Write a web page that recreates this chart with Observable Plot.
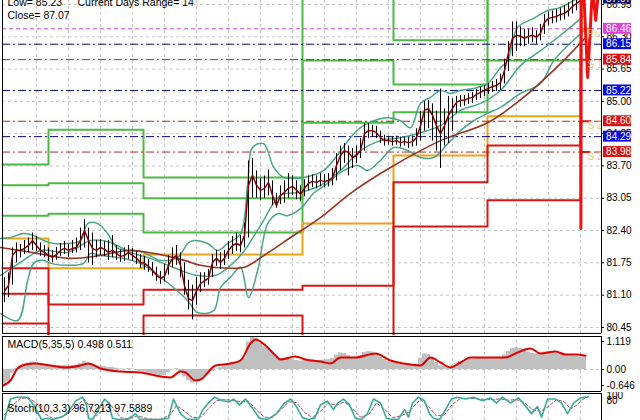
<!DOCTYPE html>
<html><head><meta charset="utf-8">
<script src="https://cdn.jsdelivr.net/npm/d3@7"></script>
<script src="https://cdn.jsdelivr.net/npm/@observablehq/plot@0.6"></script>
<style>
body{margin:0;background:#fff;}
#chart{position:relative;width:640px;height:420px;overflow:hidden;background:#fff;}
#chart svg{position:absolute;left:0;}
</style></head><body><div id="chart"></div>
<script>
// ---------- price bars (bar index 0..145) ----------
const closeP = [81.19,81.29,81.90,82.00,82.00,82.04,82.10,82.20,82.10,82.00,
81.96,81.90,81.86,81.92,82.00,82.04,82.00,82.04,82.06,82.20,
82.40,82.20,82.04,82.00,82.06,82.02,81.96,82.00,81.94,81.88,
81.90,81.96,81.90,81.84,81.76,81.74,81.68,81.60,81.50,81.44,
81.48,81.70,81.84,81.90,81.70,81.29,81.03,80.99,81.19,81.33,
81.39,81.44,81.76,81.84,81.76,81.84,82.00,82.10,82.14,82.10,
82.30,83.31,83.51,83.31,83.21,83.25,83.37,83.11,82.90,83.11,
83.17,83.25,83.29,83.21,83.13,83.25,83.35,83.39,83.37,83.41,
83.39,83.41,83.45,83.71,83.91,84.01,83.97,83.87,83.91,84.01,
84.35,84.41,84.41,84.37,84.27,84.21,84.21,84.19,84.21,84.17,
84.19,84.17,84.19,84.27,84.51,84.82,84.86,84.72,84.51,84.35,
84.51,84.72,84.86,84.98,85.02,85.02,85.06,85.08,85.14,85.18,
85.22,85.26,85.30,85.32,85.38,85.62,85.98,86.27,86.33,86.31,
86.27,86.31,86.33,86.29,86.37,86.59,86.67,86.69,86.71,86.75,
86.77,86.83,86.91,86.97,87.03,87.07];
const highP = [81.45,81.55,82.05,82.15,82.12,82.20,82.25,82.35,82.28,82.15,
82.10,82.05,82.00,82.06,82.14,82.18,82.12,82.20,82.25,82.45,
82.62,82.45,82.35,82.20,82.22,82.18,82.20,82.30,82.10,82.02,
82.05,82.10,82.04,81.98,81.92,81.88,81.82,81.76,81.66,81.58,
81.72,81.90,82.05,82.10,81.95,81.75,81.40,81.30,81.45,81.55,
81.55,81.62,81.92,82.00,81.95,82.00,82.18,82.28,82.35,82.30,
82.55,83.80,83.85,83.60,83.45,83.50,83.62,83.40,83.15,83.30,
83.40,83.55,83.50,83.40,83.30,83.42,83.50,83.52,83.50,83.55,
83.52,83.55,83.65,83.95,84.10,84.15,84.10,84.05,84.10,84.25,
84.55,84.55,84.52,84.50,84.40,84.32,84.30,84.28,84.30,84.28,
84.28,84.27,84.30,84.45,84.80,85.00,85.02,84.95,84.80,85.25,
84.85,85.10,85.05,85.10,85.12,85.12,85.16,85.18,85.24,85.28,
85.32,85.36,85.40,85.44,85.55,85.85,86.20,86.60,86.60,86.50,
86.45,86.45,86.48,86.42,86.55,86.75,86.80,86.82,86.85,86.88,
86.92,86.98,87.05,87.10,87.15,87.20];
const lowP = [80.95,81.05,81.30,81.75,81.85,81.92,81.95,82.00,81.98,81.88,
81.85,81.78,81.75,81.80,81.88,81.92,81.86,81.94,81.95,82.00,
82.05,81.75,81.70,81.85,81.90,81.88,81.80,81.85,81.80,81.76,
81.78,81.82,81.78,81.72,81.64,81.60,81.56,81.48,81.38,81.32,
81.36,81.50,81.65,81.70,81.45,81.10,80.80,80.60,80.90,81.15,
81.25,81.30,81.45,81.68,81.62,81.70,81.82,81.92,81.98,81.95,
82.05,82.25,83.05,83.05,83.00,83.05,83.10,82.90,82.85,82.92,
82.95,83.05,83.10,83.02,82.98,83.08,83.20,83.26,83.24,83.28,
83.26,83.28,83.30,83.40,83.60,83.75,83.50,83.65,83.75,83.85,
84.00,84.25,84.28,84.25,84.15,84.10,84.12,84.10,84.12,84.08,
84.10,84.05,84.08,84.10,84.20,84.40,84.45,84.20,84.00,83.65,
84.10,84.15,84.40,84.75,84.88,84.90,84.94,84.96,85.02,85.06,
85.10,85.14,85.18,85.20,85.22,85.35,85.60,85.90,86.00,86.10,
86.10,86.15,86.18,86.15,86.22,86.35,86.52,86.56,86.58,86.62,
86.64,86.70,86.76,86.82,86.88,86.95];

// ---------- moving average & Bollinger bands [barIndex, price] ----------
const maLong = [[-1,82.06],[7,81.96],[16,81.84],[24,81.90],[31,82.00],[36,81.96],[45,81.80],[49,81.70],[57,81.64],[60,81.66],[66,81.96],[71.5,82.26],[79,82.66],[86.5,83.15],[96.5,83.67],[109,84.21],[120.75,84.57],[129.75,85.08],[139,85.76],[145,86.26]];
const bbUpper = [[-1,82.24],[1.5,82.26],[4.8,82.34],[7.3,82.30],[9.8,82.20],[12.3,82.14],[15.8,82.14],[19,82.20],[20.8,82.54],[23.3,82.54],[25.8,82.34],[28.3,82.04],[32.3,82.00],[34.8,81.96],[39,81.80],[43.3,81.86],[45.8,82.14],[47.3,82.20],[50.8,82.14],[53.3,82.00],[55.8,82.14],[59,82.34],[60.8,83.35],[62,84.07],[64.8,84.15],[67.3,83.67],[69.8,83.47],[74.8,83.47],[79.8,83.61],[86.5,84.27],[89,84.47],[92.3,84.61],[95.8,84.67],[99,84.61],[101.5,84.47],[104,84.96],[106.5,85.08],[109,85.22],[111.5,85.16],[114,85.22],[117.3,85.26],[120.8,85.36],[124,85.68],[125.8,85.82],[128.3,86.49],[132.3,86.67],[135.8,86.83],[139,86.89],[142.3,87.03],[145,87.13]];
const bbMiddle = [[-1,81.50],[4,81.76],[9,82.00],[15.8,81.96],[21.5,82.20],[26.5,82.16],[31.5,81.96],[36.5,81.84],[42.8,81.64],[47.8,81.50],[52.8,81.50],[59,81.90],[64,82.50],[69,83.11],[74,83.17],[79,83.31],[84,83.61],[89,84.01],[94,84.21],[99,84.27],[104,84.37],[109,84.51],[114,84.82],[119,84.96],[124,85.22],[129,85.72],[134,86.02],[139,86.33],[145,86.73]];
const bbLower = [[-1,80.73],[3.3,80.59],[5.8,81.40],[7.3,81.74],[9.8,81.80],[11.5,81.74],[15.8,81.70],[19.8,81.74],[21.5,81.94],[24,81.90],[28.3,81.86],[34,81.74],[39,81.46],[42.3,81.25],[45.8,80.99],[48.3,80.75],[52.3,80.79],[54,81.25],[56.5,81.46],[59,81.66],[61,81.05],[63.3,81.60],[65.8,82.54],[68.3,82.74],[70.8,82.70],[74,82.84],[77.3,83.15],[80.8,83.35],[84,83.57],[88.3,83.71],[90.8,83.61],[94,83.81],[97.3,84.07],[100.8,84.01],[104,83.87],[107.3,83.87],[110.8,84.15],[114,84.41],[117.3,84.61],[120.8,84.76],[124,84.88],[129,85.16],[134,85.36],[137.3,85.82],[140.8,86.12],[145,86.43]];
const zigzag = [[144.1,82.44],[144.2,87.30],[144.75,87.30],[145.8,85.48],[147,87.30],[147.8,86.63],[148.6,87.30]];

// ---------- daily pivot levels (one value per day) ----------
const dayStart = [-0.5, 11, 34.75, 74.5, 97.25, 120.75, 144, 146.5];
const R3 = [83.73, 84.43, 83.47, 88.6, 86.23, 88.6, 88.6];
const R2 = [83.31, 83.35, 83.05, 85.82, 85.34, 88.6, 88.6];
const R1 = [82.70, 82.74, 82.36, 84.57, 84.78, 85.82, 88.6];
const PV = [82.24, 81.64, 81.92, 82.54, 83.91, 84.70, 86.46];
const S1 = [81.64, 80.91, 81.21, 81.29, 83.37, 84.11, 85.84];
const S2 = [81.13, 79.5, 80.69, 79.5, 82.48, 83.01, 84.60];
const S3 = [80.53, 79.0, 79.0, 79.0, 79.0, 79.0];
const S3today = 83.98;
const pivLabels = ["Piv", "S 1", "S 2", "S 3"];
const pivLabelY = [86.36, 85.74, 84.50, 83.88];

// ---------- horizontal level lines & right-side boxes ----------
const levelV = [86.46, 86.15, 85.84, 85.22, 84.60, 84.29, 83.98];
const levelKind = ["m", "b", "r", "b", "r", "b", "r"];
const priceTicks = [86.95, 86.30, 85.65, 85.00, 84.35, 83.70, 83.05, 82.40, 81.75, 81.10, 80.45];
const gridX = [8,16,24,32,40,48,56,64,72,80,88,96,104,112,120,128,136,144];
const lastClose = 87.07;
const infoTexts = ["Low= 85.23", "Current Days Range= 14", "Close= 87.07"];

// ---------- MACD ----------
const macdHist = [-0.60,-0.50,-0.15,0.05,0.15,0.22,0.26,0.30,0.28,0.22,
0.18,0.14,0.12,0.14,0.16,0.16,0.15,0.16,0.18,0.24,
0.32,0.26,0.18,0.15,0.14,0.12,0.08,0.08,0.05,0.02,
0.02,0.04,0.02,-0.04,-0.08,-0.10,-0.14,-0.18,-0.22,-0.26,
-0.24,-0.12,0.00,0.04,-0.08,-0.30,-0.45,-0.55,-0.50,-0.40,
-0.30,-0.22,-0.08,0.02,0.08,0.14,0.22,0.26,0.28,0.32,
0.45,1.10,1.35,1.25,1.05,0.90,0.85,0.70,0.52,0.45,
0.42,0.42,0.40,0.36,0.34,0.36,0.38,0.38,0.36,0.36,
0.38,0.40,0.45,0.58,0.66,0.64,0.56,0.48,0.48,0.55,
0.68,0.72,0.70,0.62,0.50,0.40,0.32,0.28,0.24,0.20,
0.18,0.16,0.16,0.22,0.45,0.62,0.60,0.45,0.28,0.15,
0.12,0.10,0.15,0.25,0.32,0.36,0.40,0.42,0.44,0.45,
0.46,0.46,0.46,0.46,0.48,0.58,0.72,0.84,0.88,0.85,
0.78,0.70,0.64,0.62,0.64,0.70,0.72,0.70,0.66,0.62,
0.58,0.55,0.54,0.52,0.50,0.498];
const macdSignal = [[-0.25,-0.64],[1.5,-0.44],[3.25,0.04],[5.25,0.2],[7.75,0.24],[11.5,0.16],[15.25,0.08],[19,0.16],[21,0.24],[24,0.04],[29,-0.08],[34,-0.12],[39,-0.28],[41.5,-0.32],[44,-0.08],[45.25,-0.12],[47.75,-0.44],[49,-0.40],[52.75,0.16],[56.5,0.24],[59,0.36],[61.5,1.04],[62.75,1.2],[65.25,0.96],[67.75,0.56],[69,0.40],[72.75,0.52],[75.25,0.40],[79,0.32],[81.5,0.24],[84,0.48],[87.75,0.48],[92.75,0.64],[96.5,0.36],[101.5,0.20],[104,0.16],[106.5,0.48],[109,0.28],[111.5,0.08],[114,0.28],[116.5,0.48],[121.5,0.48],[125.25,0.48],[127.75,0.64],[131.5,0.84],[134,0.64],[137.75,0.72],[140.25,0.60],[142.75,0.60],[145.25,0.55]];
const macdTicks = [1.119, 0.00, -0.646];
const macdTickText = ["1.119", "0.00", "-0.646"];
const macdTitle = "MACD(5,35,5) 0.498 0.511";

// ---------- Stochastic ----------
const stochMain = [[0,0],[1.5,87],[3,95],[5.75,95],[7.25,63],[9.25,0],[10.75,5],[11.75,0],[13.25,5],[14.75,15],[16.25,40],[17.75,78],[19.5,95],[20.5,62],[21,5],[22,0],[23.5,42],[25,87],[26,70],[27,5],[28.5,0],[30.75,0],[32.75,25],[33.75,2],[35.25,0],[39,0],[41,5],[42.25,87],[44,25],[45.5,2],[47,0],[48.5,2],[49.5,40],[51,70],[52.5,95],[54.5,80],[56.25,75],[57.25,87],[58.75,62],[60.25,87],[62.25,42],[63.75,5],[65.75,0],[68,25],[70,70],[71.5,87],[73,55],[74.5,8],[76,0],[77.5,5],[79,62],[80.75,78],[82.25,42],[83.25,70],[84.75,87],[86.25,62],[87.75,5],[89.25,0],[90.75,25],[92.25,87],[94,70],[95.5,5],[97,0],[98.5,2],[100,42],[101,10],[102,70],[103.5,95],[105,80],[106.25,25],[107.25,5],[108.75,0],[110.25,42],[111.75,87],[113.25,95],[115.25,87],[117.25,95],[119.5,80],[121.5,92],[123,70],[124.5,95],[126.5,70],[128.5,92],[130,62],[131.75,25],[133.25,55],[134.25,10],[135.75,87],[137.75,87],[139.25,70],[140.75,25],[142.25,70],[144,92],[146,96.7]];
const stochSignal = [[0,20],[2,60],[4,90],[6,92],[8,70],[10,25],[12,5],[14,8],[16,25],[18,60],[20,85],[21.5,50],[23,15],[24.5,40],[26,75],[27.5,40],[29,8],[31,2],[33,15],[34.5,10],[36,2],[39,1],[41.5,20],[43,60],[45,35],[47,8],[49,10],[51,45],[53,80],[55,85],[57,82],[59,75],[61,78],[63,40],[65,10],[67,8],[69,40],[71,75],[73,72],[75,30],[77,8],[79,35],[81,70],[83,60],[85,75],[87,45],[89,10],[91,20],[93,70],[95,45],[97,8],[99,15],[101,30],[102.5,60],[104,85],[106,55],[108,15],[110,20],[112,65],[114,90],[116,90],[118,88],[120,86],[122,85],[124,88],[126,82],[128,85],[130,72],[132,42],[134,35],[136,55],[138,85],[140,75],[141.5,45],[143,60],[144.5,85],[146,97.6]];
const stochTicks = [100, 80];
const stochTitle = "Stoch(10,3,3) 96.7213 97.5889";

// ================= drawing =================
const FONT = "'Liberation Sans', Arial, sans-serif";
const xDom = [-1, 159];
const plotL = -0.5, plotR = 149.25;
const yMain = [80.288, 87.03];
const yMainBottom = 80.33;
const dash = "3,3";
const gridC = "#c4c4c4";
const kindLine = {m: "#cc44cc", b: "#000080", r: "#b82424"};
const kindBox = {m: "#e040e0", b: "#0a0ae0", r: "#e01010"};

const bars = closeP.map((c, i) => ({i, c, h: highP[i], l: lowP[i]}));
const levels = levelV.map((v, k) => ({v, k: levelKind[k]}));
function stepRows(name, vals) {
  const rows = vals.map((v, k) => ({x: dayStart[k], v, name}));
  rows.push({x: dayStart[vals.length], v: vals[vals.length - 1], name});
  return rows;
}
const rRows = [...stepRows("R3", R3), ...stepRows("R2", R2), ...stepRows("R1", R1)];
const pRows = stepRows("P", PV);
const sRows = [...stepRows("S1", S1), ...stepRows("S2", S2), ...stepRows("S3", S3)];
const P0 = d => d[0], P1 = d => d[1];

const common = {width: 640, marginTop: 0, marginBottom: 0, marginLeft: 0, marginRight: 0,
  x: {domain: xDom, axis: null}, style: {fontFamily: FONT, background: "white", overflow: "hidden"}};

const main = Plot.plot({
  ...common, height: 335,
  y: {domain: yMain, axis: null},
  marks: [
    Plot.ruleX(gridX, {x: d => d, y1: yMainBottom, y2: yMain[1], stroke: gridC, strokeDasharray: dash}),
    Plot.ruleY(priceTicks, {y: d => d, x1: plotL, x2: plotR, stroke: gridC, strokeDasharray: dash}),
    Plot.line(rRows, {x: "x", y: "v", z: "name", curve: "step-after", stroke: "#4cbb44", strokeWidth: 2, clip: true}),
    Plot.line(pRows, {x: "x", y: "v", z: "name", curve: "step-after", stroke: "#f0a418", strokeWidth: 2, clip: true}),
    Plot.line(sRows, {x: "x", y: "v", z: "name", curve: "step-after", stroke: "#dd1414", strokeWidth: 2, clip: true}),
    Plot.ruleY([S3today], {y: d => d, x1: dayStart[6], x2: dayStart[7], stroke: "#dd1414", strokeWidth: 2}),
    Plot.ruleY(levels.filter(d => d.k === "m"), {y: "v", x1: plotL, x2: plotR, stroke: kindLine.m, strokeDasharray: "4,3"}),
    Plot.ruleY(levels.filter(d => d.k === "b"), {y: "v", x1: plotL, x2: plotR, stroke: kindLine.b, strokeDasharray: "8,3,2,3"}),
    Plot.ruleY(levels.filter(d => d.k === "r"), {y: "v", x1: plotL, x2: plotR, stroke: kindLine.r, strokeDasharray: "8,3,2,3"}),
    Plot.line(bbUpper, {x: P0, y: P1, stroke: "#48a688", strokeWidth: 1.5, curve: "catmull-rom", clip: true}),
    Plot.line(bbMiddle, {x: P0, y: P1, stroke: "#48a688", strokeWidth: 1.5, curve: "catmull-rom", clip: true}),
    Plot.line(bbLower, {x: P0, y: P1, stroke: "#48a688", strokeWidth: 1.5, curve: "catmull-rom", clip: true}),
    Plot.line(maLong, {x: P0, y: P1, stroke: "#9a3322", strokeWidth: 1.6, curve: "catmull-rom", clip: true}),
    Plot.ruleX(bars, {x: "i", y1: "l", y2: "h", stroke: "black", strokeWidth: 1, clip: true}),
    Plot.line(bars, {x: "i", y: "c", stroke: "#8b0000", strokeWidth: 1.5, clip: true}),
    Plot.line(zigzag, {x: P0, y: P1, stroke: "#ee1111", strokeWidth: 3, clip: true}),
    Plot.text(pivLabels, {x: 145.75, y: (d, k) => pivLabelY[k], text: d => d, textAnchor: "start", fill: "#efbf6a", fontSize: 10, fillOpacity: 0.9}),
    Plot.text([infoTexts[0]], {x: 0.75, y: 86.98, text: d => d, textAnchor: "start", fill: "black", fontSize: 10.5}),
    Plot.text([infoTexts[1]], {x: 18.25, y: 86.98, text: d => d, textAnchor: "start", fill: "black", fontSize: 10.5}),
    Plot.text([infoTexts[2]], {x: 0.75, y: 86.72, text: d => d, textAnchor: "start", fill: "black", fontSize: 10.5}),
    Plot.ruleX([plotL, plotR], {x: d => d, y1: yMainBottom, y2: yMain[1], stroke: "black"}),
    Plot.ruleY([yMainBottom], {y: d => d, x1: plotL, x2: plotR, stroke: "black"}),
    Plot.ruleY(priceTicks, {y: d => d, x1: plotR, x2: 150.0, stroke: "black"}),
    Plot.text(priceTicks, {x: 150.5, y: d => d, text: d => d.toFixed(2), textAnchor: "start", fill: "black", fontSize: 10}),
    Plot.rect(levels, {x1: 149.75, x2: 156.75, y1: d => d.v - 0.11, y2: d => d.v + 0.11, fill: d => kindBox[d.k]}),
    Plot.text(levels, {x: 150.4, y: "v", text: d => d.v.toFixed(2), textAnchor: "start", fill: "white", fontSize: 10}),
    Plot.rect([lastClose], {x1: 149.75, x2: 156.75, y1: d => d - 0.11, y2: d => d + 0.11, fill: "#101060"}),
    Plot.text([lastClose], {x: 150.4, y: d => d, text: d => d.toFixed(2), textAnchor: "start", fill: "white", fontSize: 10})
  ]
});

const macdY = [-0.92, 1.36];
const macdTop = 1.32, macdBot = -0.88;
const hist = macdHist.map((v, i) => ({i, v}));
const macd = Plot.plot({
  ...common, height: 57,
  y: {domain: macdY, axis: null},
  marks: [
    Plot.ruleX(gridX, {x: d => d, y1: macdBot, y2: macdTop, stroke: gridC, strokeDasharray: dash}),
    Plot.ruleY([0], {y: d => d, x1: plotL, x2: plotR, stroke: gridC, strokeDasharray: dash}),
    Plot.rect(hist, {x1: d => d.i - 0.5, x2: d => d.i + 0.5, y1: 0, y2: d => Math.min(d.v, macdTop), fill: "#c0c0c0"}),
    Plot.line(macdSignal, {x: P0, y: P1, stroke: "#e00000", strokeWidth: 2, curve: "monotone-x"}),
    Plot.ruleX([plotL, plotR], {x: d => d, y1: macdBot, y2: macdTop, stroke: "black"}),
    Plot.ruleY([macdTop, macdBot], {y: d => d, x1: plotL, x2: plotR, stroke: "black"}),
    Plot.ruleY(macdTicks, {y: d => d, x1: plotR, x2: 150.0, stroke: "black"}),
    Plot.text(macdTicks, {x: 150.5, y: d => d, text: (d, k) => macdTickText[k], textAnchor: "start", fill: "black", fontSize: 10}),
    Plot.text([macdTitle], {x: 0.75, y: 1.0, text: d => d, textAnchor: "start", fill: "black", fontSize: 10.5})
  ]
});

const stY = [-4.26, 114.9];
const stTop = 110.6;
const stoch = Plot.plot({
  ...common, height: 28,
  y: {domain: stY, axis: null},
  marks: [
    Plot.ruleX(gridX, {x: d => d, y1: stY[0], y2: stTop, stroke: gridC, strokeDasharray: dash}),
    Plot.line(stochSignal, {x: P0, y: P1, stroke: "#a05050", strokeWidth: 1, strokeDasharray: "3,2"}),
    Plot.line(stochMain, {x: P0, y: P1, stroke: "#3aaa9e", strokeWidth: 1.6}),
    Plot.ruleX([plotL, plotR], {x: d => d, y1: stY[0], y2: stTop, stroke: "black"}),
    Plot.ruleY([stTop], {y: d => d, x1: plotL, x2: plotR, stroke: "black"}),
    Plot.text(stochTicks, {x: 150.5, y: d => d, text: d => String(d), textAnchor: "start", fill: "black", fontSize: 10}),
    Plot.text([stochTitle], {x: 0.75, y: 46.8, text: d => d, textAnchor: "start", fill: "black", fontSize: 10.5})
  ]
});

const host = document.getElementById("chart");
[[main, 0], [macd, 335], [stoch, 392]].forEach(([svg, top]) => {
  svg.style.position = "absolute";
  svg.style.top = top + "px";
  svg.style.left = "0px";
  svg.style.overflow = "hidden";
  svg.style.maxWidth = "none";
  host.appendChild(svg);
});
</script></body></html>
